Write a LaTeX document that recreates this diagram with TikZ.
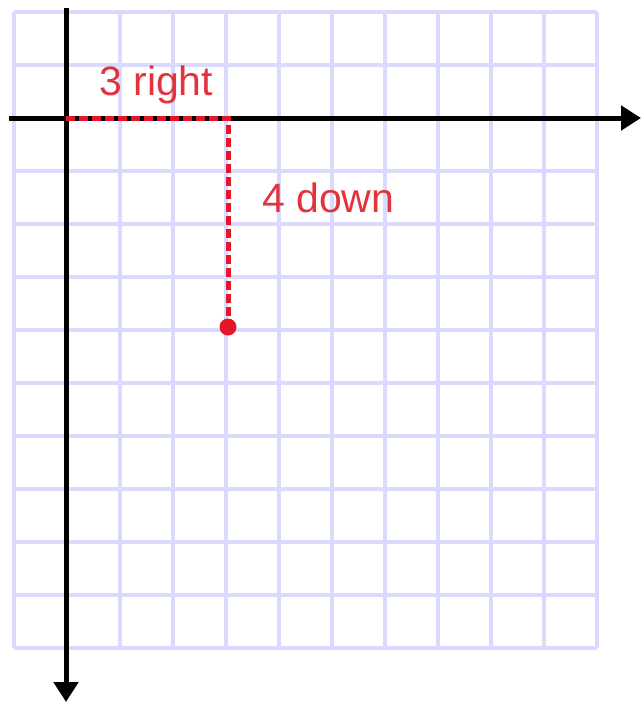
\documentclass[tikz,border=0pt]{standalone}
\usepackage{fontspec}
\setmainfont{Liberation Sans}
\usetikzlibrary{arrows.meta}
\definecolor{gridblue}{RGB}{218,218,255}
\definecolor{markred}{RGB}{228,22,42}
\definecolor{labelred}{RGB}{226,52,62}
\tikzset{
  gridline/.style={draw=gridblue, line width=3.2pt},
  axisline/.style={draw=black, line width=5pt, -{Triangle[length=20pt,width=24pt]}},
  moveline/.style={draw=markred, line width=5pt, dash pattern=on 9pt off 4pt},
  movelabel/.style={text=labelred, font=\fontsize{41}{41}\selectfont, anchor=base west, inner sep=0pt},
  dotmark/.style={circle, fill=markred, minimum size=17pt, inner sep=0pt}
}
\begin{document}
\begin{tikzpicture}[x=1pt,y=-1pt]
\useasboundingbox (0,0) rectangle (641,702);
\fill[white] (0,0) rectangle (641,702);
% grid
\foreach \i in {0,...,11} \draw[gridline] ({14+53*\i},12) -- ({14+53*\i},648);
\foreach \j in {0,...,12} \draw[gridline] (14,{12+53*\j}) -- (597,{12+53*\j});
% axes
\coordinate (xstart) at (9,118);
\coordinate (xend) at (641,118);
\coordinate (ystart) at (66,8);
\coordinate (yend) at (66,702);
\draw[axisline] (xstart) -- (xend);
\draw[axisline] (ystart) -- (yend);
% moves
\coordinate (origin) at (66,118);
\coordinate (corner) at (228,118);
\node[dotmark] (pt) at (228,327) {};
\draw[moveline] (origin) -- (corner) -- (pt.center);
\node[movelabel] (lright) at (99,95) {3 right};
\node[movelabel] (ldown) at (262,212) {4 down};
\end{tikzpicture}
\end{document}
